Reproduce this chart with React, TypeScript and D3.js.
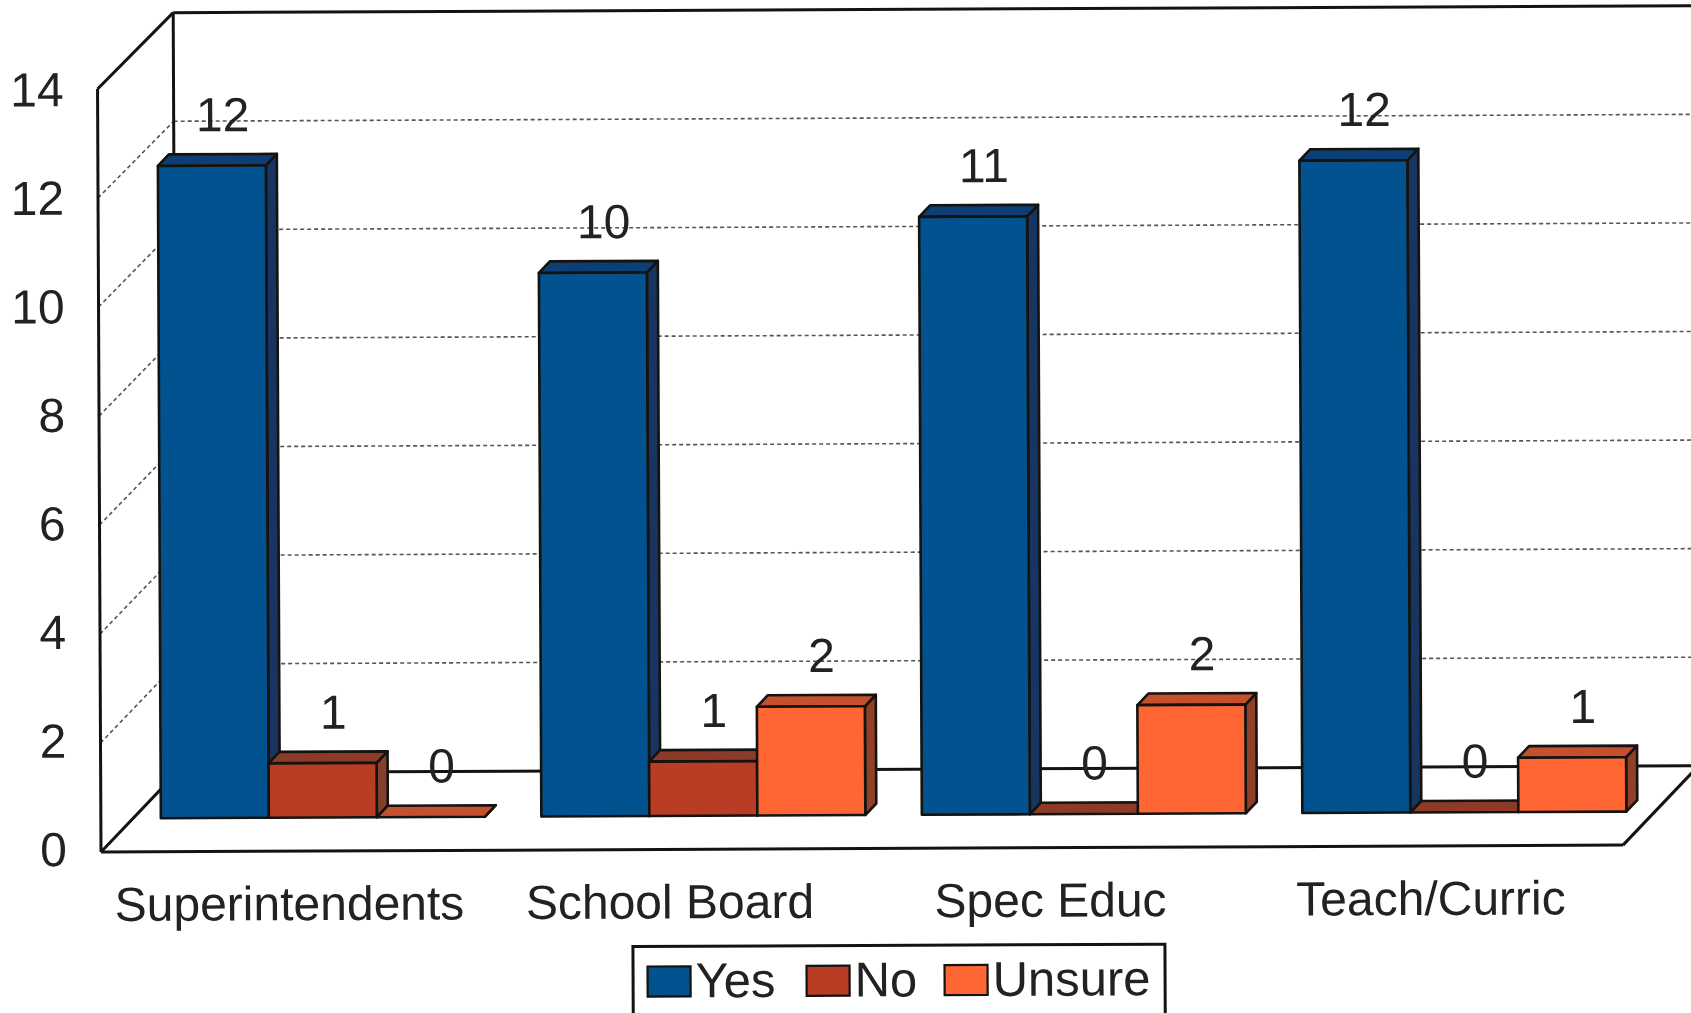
import React from "react";
import * as d3 from "d3";

const categories = ["Superintendents", "School Board", "Spec Educ", "Teach/Curric"];
const seriesNames = ["Yes", "No", "Unsure"];
const yesValues = [12, 10, 11, 12];
const noValues = [1, 1, 0, 0];
const unsureValues = [0, 2, 2, 1];
const yTicks = [0, 2, 4, 6, 8, 10, 12, 14];

const seriesValues = [yesValues, noValues, unsureValues];
const palette = [
  { face: "#02528f", top: "#0e3f74", side: "#183561" },
  { face: "#b93c25", top: "#8e3a29", side: "#84402b" },
  { face: "#ff6633", top: "#c5502d", side: "#8f4026" },
];

const W = 1691;
const H = 1013;
const FONT = "'Liberation Sans', Arial, sans-serif";
const TEXT = "#222222";

// Front plane of the chart box, and how far the walls recede.
const left = 101;
const right = 1623;
const baseY = 852;
const topY = 89;
const wallDx = 76;

// Bars stand a little way back on the floor and have a shallow depth of their own.
const barFloorDx = 60;
const barFloorDy = -33.5;
const barWidth = 108;
const barDx = 11;
const barDy = -11.5;

const y = d3.scaleLinear().domain([0, 14]).range([baseY, topY]);
const backY = d3.scaleLinear().domain([0, 14]).range([baseY - 79, topY - 76]);
const barY = d3.scaleLinear().domain([0, 14]).range([baseY + barFloorDy, topY + barFloorDy + 2]);
const tickLabelY = d3.scaleLinear().domain([0, 14]).range([baseY + 14, topY + 17]);
const x = d3.scaleBand<string>().domain(categories).range([left, right]);
const seriesX = d3.scaleBand<string>().domain(seriesNames).range([0, barWidth * 3]);

const poly = (pts: [number, number][]) => (d3.line()(pts) ?? "") + "Z";

export default function App() {
  const outline = "#14130f";
  return (
    <svg
      width={W}
      height={H}
      viewBox={`0 0 ${W} ${H}`}
      style={{ position: "absolute", left: 0, top: 0, display: "block", background: "#fff" }}
    >
      <g transform={`rotate(-0.26 ${left} ${baseY})`}>
        {/* Gridlines across the side wall and the back wall */}
        {yTicks
          .filter((t) => t > 0 && t < 14)
          .map((t) => (
            <g key={t} fill="none" stroke="#555555" strokeWidth={1.6} strokeDasharray="4 3">
              <line x1={left} x2={left + wallDx} y1={y(t)} y2={backY(t)} />
              <line x1={left + wallDx} x2={W + 40} y1={backY(t)} y2={backY(t)} />
            </g>
          ))}

        {/* Box frame */}
        <g fill="none" stroke={outline} strokeWidth={3}>
          <line x1={left} x2={left} y1={y(14)} y2={y(0)} />
          <line x1={left} x2={left + wallDx} y1={y(14)} y2={backY(14)} />
          <line x1={left + wallDx} x2={left + wallDx} y1={backY(14)} y2={backY(0)} />
          <line x1={left + wallDx} x2={W + 40} y1={backY(14)} y2={backY(14)} />
          <line x1={left + wallDx} x2={W + 40} y1={backY(0)} y2={backY(0)} />
          <line x1={left} x2={left + wallDx} y1={y(0)} y2={backY(0)} />
          <line x1={left} x2={right} y1={y(0)} y2={y(0)} />
          <line x1={right} x2={right + wallDx} y1={y(0)} y2={backY(0)} />
        </g>

        {/* Bars */}
        {categories.map((c, ci) =>
          seriesNames.map((s, si) => {
            const v = seriesValues[si][ci];
            const x0 = (x(c) as number) + barFloorDx + (seriesX(s) as number);
            const x1 = x0 + barWidth;
            const yb = barY(0);
            const yt = barY(v);
            const col = palette[si];
            return (
              <g key={c + s} stroke={outline} strokeWidth={2.6} strokeLinejoin="round">
                <path
                  d={poly([[x1, yb], [x1 + barDx, yb + barDy], [x1 + barDx, yt + barDy], [x1, yt]])}
                  fill={col.side}
                />
                <path
                  d={poly([[x0, yt], [x0 + barDx, yt + barDy], [x1 + barDx, yt + barDy], [x1, yt]])}
                  fill={col.top}
                />
                {v > 0 && <rect x={x0} y={yt} width={barWidth} height={yb - yt} fill={col.face} />}
              </g>
            );
          })
        )}

        {/* Value labels */}
        <g fontFamily={FONT} fontSize={48} fill={TEXT} textAnchor="middle">
          {categories.map((c, ci) =>
            seriesNames.map((s, si) => {
              const v = seriesValues[si][ci];
              const cx = (x(c) as number) + barFloorDx + (seriesX(s) as number) + barWidth / 2 + 11;
              return (
                <text key={c + s} x={cx} y={barY(v) + barDy - 23}>
                  {v}
                </text>
              );
            })
          )}
        </g>

        {/* Value axis labels */}
        <g fontFamily={FONT} fontSize={48} fill={TEXT} textAnchor="end">
          {yTicks.map((t) => (
            <text key={t} x={67} y={tickLabelY(t)}>
              {t}
            </text>
          ))}
        </g>

        {/* Category labels */}
        <g fontFamily={FONT} fontSize={48} fill={TEXT} textAnchor="middle">
          {categories.map((c) => (
            <text key={c} x={(x(c) as number) + x.bandwidth() / 2 - 2} y={921}>
              {c}
            </text>
          ))}
        </g>

        {/* Legend */}
        <g>
          <rect x={632.5} y={949} width={532} height={90} fill="#fff" stroke={outline} strokeWidth={3} />
          {seriesNames.map((s, i) => {
            const sx = [647, 806, 944][i];
            return (
              <g key={s}>
                <rect x={sx} y={969} width={43} height={30} fill={palette[i].face} stroke={outline} strokeWidth={2.2} />
                <text x={sx + 48} y={1000} fontFamily={FONT} fontSize={49} fill={TEXT}>
                  {s}
                </text>
              </g>
            );
          })}
        </g>
      </g>
    </svg>
  );
}
